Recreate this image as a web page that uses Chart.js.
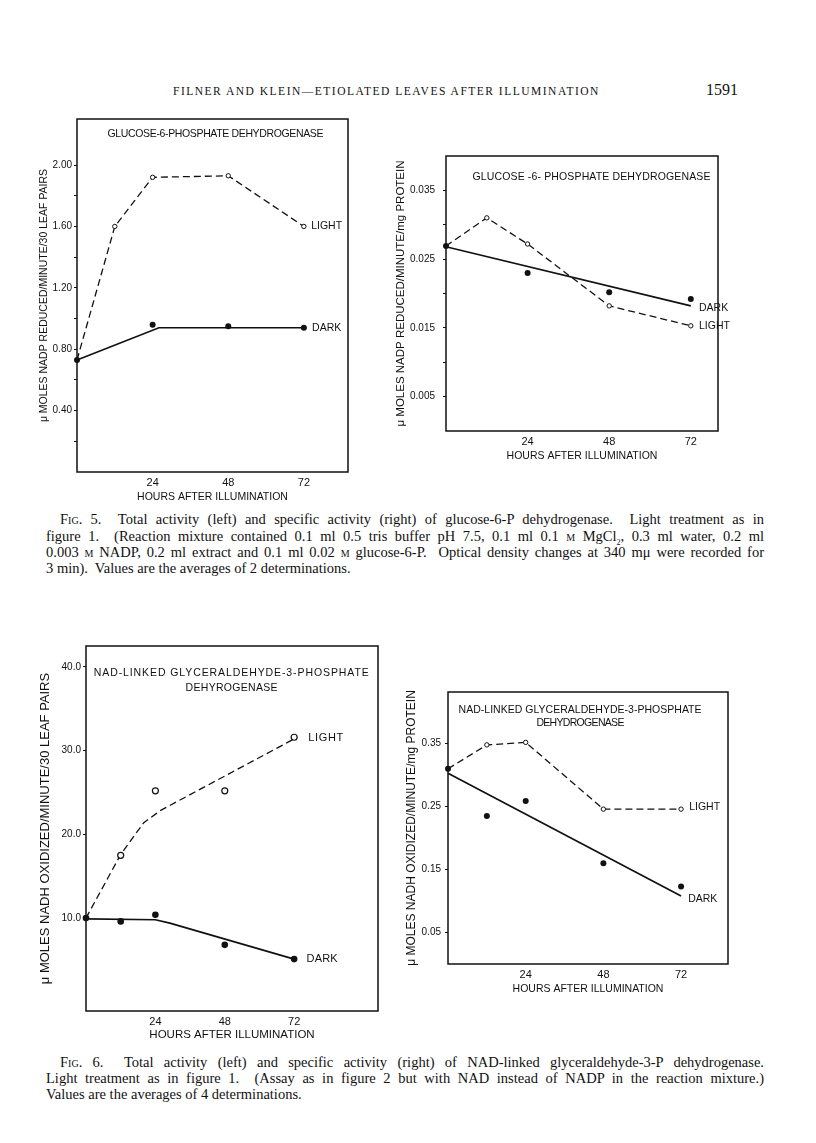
<!DOCTYPE html>
<html>
<head>
<meta charset="utf-8">
<script src="https://cdn.jsdelivr.net/npm/chart.js@4.4.1/dist/chart.umd.min.js"></script>
<style>
  body { margin: 0; background: #fff; width: 816px; height: 1143px; position: relative; overflow: hidden; color: #111; font-family: "Liberation Serif", "Times New Roman", serif; }
  canvas { position: absolute; }
  .hdr { position: absolute; font-size: 11.5px; letter-spacing: 1.5px; white-space: nowrap; }
  .cap { position: absolute; left: 46px; width: 718px; font-size: 14.5px; line-height: 16px; white-space: nowrap; text-align: justify; text-align-last: justify; }
  .cap.first { padding-left: 14px; width: 704px; }
  .cap.last { text-align-last: left; }
  .sc { font-variant: small-caps; }
</style>
</head>
<body>
<div class="hdr" style="left:173px; top:85px;">FILNER AND KLEIN—ETIOLATED LEAVES AFTER ILLUMINATION</div>
<div class="hdr" style="left:706px; top:81px; font-size:16px; letter-spacing:0;">1591</div>

<canvas id="g6pTotal"></canvas>
<canvas id="g6pSpec"></canvas>

<div class="cap first" style="top:511px;">F<span class="sc">ig</span>. 5.&nbsp; Total activity (left) and specific activity (right) of glucose-6-P dehydrogenase.&nbsp; Light treatment as in</div>
<div class="cap" style="top:527.5px;">figure 1.&nbsp; (Reaction mixture contained 0.1 ml 0.5 tris buffer pH 7.5, 0.1 ml 0.1 <span class="sc">m</span> MgCl<sub style="font-size:8px">2</sub>, 0.3 ml water, 0.2 ml</div>
<div class="cap" style="top:544px;">0.003 <span class="sc">m</span> NADP, 0.2 ml extract and 0.1 ml 0.02 <span class="sc">m</span> glucose-6-P.&nbsp; Optical density changes at 340 mμ were recorded for</div>
<div class="cap last" style="top:559.5px;">3 min).&nbsp; Values are the averages of 2 determinations.</div>

<canvas id="gapdhTotal"></canvas>
<canvas id="gapdhSpec"></canvas>

<div class="cap first" style="top:1054px;">F<span class="sc">ig</span>. 6.&nbsp; Total activity (left) and specific activity (right) of NAD-linked glyceraldehyde-3-P dehydrogenase.</div>
<div class="cap" style="top:1070px;">Light treatment as in figure 1.&nbsp; (Assay as in figure 2 but with NAD instead of NADP in the reaction mixture.)</div>
<div class="cap last" style="top:1085.5px;">Values are the averages of 4 determinations.</div>

<script>
// hours after illumination
const hours = [0, 12, 24, 48, 72];
const darkHours = [0, 24, 48, 72];
const lightHours = [12, 24, 48, 72];
const xTicks = [24, 48, 72];

// Fig. 5 left: total activity of glucose-6-P dehydrogenase
const g6pTotalLight = [0.73, 1.60, 1.92, 1.93, 1.60];
const g6pTotalDark = [0.73, 0.96, 0.95, 0.94];
const g6pTotalDarkFitX = [0, 26, 72];
const g6pTotalDarkFitY = [0.73, 0.94, 0.94];
const g6pTotalYMajor = [0.4, 0.8, 1.2, 1.6, 2.0];
const g6pTotalYLabels = ['0.40', '0.80', '1.20', '1.60', '2.00'];
const g6pTotalYMinor = [0.2, 0.6, 1.0, 1.4, 1.8];

// Fig. 5 right: specific activity of glucose-6-P dehydrogenase
const g6pSpecLight = [0.0269, 0.0310, 0.0272, 0.0182, 0.0153];
const g6pSpecDark = [0.0269, 0.0230, 0.0202, 0.0192];
const g6pSpecDarkFitX = [0, 72];
const g6pSpecDarkFitY = [0.0268, 0.0182];
const g6pSpecYMajor = [0.005, 0.015, 0.025, 0.035];
const g6pSpecYLabels = ['0.005', '0.015', '0.025', '0.035'];
const g6pSpecYMinor = [0.010, 0.020, 0.030];

// Fig. 6 left: total activity of NAD-linked glyceraldehyde-3-P dehydrogenase
const gapdhTotalLight = [17.5, 25.2, 25.2, 31.6];
const gapdhTotalLightFitX = [0, 12, 20, 26, 72];
const gapdhTotalLightFitY = [10.0, 17.6, 21.4, 22.9, 31.4];
const gapdhTotalDark = [10.0, 9.6, 10.4, 6.8, 5.1];
const gapdhTotalDarkFitX = [0, 24, 29, 72];
const gapdhTotalDarkFitY = [9.9, 9.8, 9.4, 5.1];
const gapdhTotalYMajor = [10, 20, 30, 40];
const gapdhTotalYLabels = ['10.0', '20.0', '30.0', '40.0'];
const gapdhTotalYMinor = [];

// Fig. 6 right: specific activity of NAD-linked glyceraldehyde-3-P dehydrogenase
const gapdhSpecLight = [0.310, 0.348, 0.352, 0.246, 0.246];
const gapdhSpecDark = [0.310, 0.235, 0.259, 0.160, 0.123];
const gapdhSpecDarkFitX = [0, 72];
const gapdhSpecDarkFitY = [0.303, 0.108];
const gapdhSpecYMajor = [0.05, 0.15, 0.25, 0.35];
const gapdhSpecYLabels = ['0.05', '0.15', '0.25', '0.35'];
const gapdhSpecYMinor = [];

const ink = '#111';
const sans = '"Liberation Sans", Arial, sans-serif';

function pts(xs, ys) {
    return xs.map((x, i) => ({ x: x, y: ys[i] }));
}

function decor(notes) {
    return {
        id: 'decor',
        beforeDatasetsDraw(chart) {
            const a = chart.chartArea, ctx = chart.ctx;
            ctx.save();
            ctx.strokeStyle = ink;
            ctx.lineWidth = 1.5;
            ctx.strokeRect(a.left, a.top, a.right - a.left, a.bottom - a.top);
            ctx.restore();
        },
        afterDraw(chart) {
            const ctx = chart.ctx, xs = chart.scales.x, ys = chart.scales.y;
            ctx.save();
            ctx.fillStyle = ink;
            ctx.textBaseline = 'middle';
            notes.forEach(n => {
                ctx.font = n.font;
                ctx.textAlign = n.align || 'left';
                ctx.letterSpacing = '0px';
                if (n.width) {
                    const m = ctx.measureText(n.text).width;
                    ctx.letterSpacing = ((n.width - m) / (n.text.length - 1)) + 'px';
                }
                ctx.fillText(n.text, xs.getPixelForValue(n.x), ys.getPixelForValue(n.y));
            });
            ctx.restore();
        }
    };
}

// top padding is kept larger than the y scale's own label padding so the box top lands on g.box[1]
const padTop = 24;

function panel(id, g) {
    const cv = document.getElementById(id);
    const w = g.box[2] - g.box[0] + g.yw + g.padRight;
    const h = g.box[3] - g.box[1] + padTop + g.xh;
    cv.width = w;
    cv.height = h;
    cv.style.left = (g.box[0] - g.yw) + 'px';
    cv.style.top = (g.box[1] - padTop) + 'px';

    const allY = g.yMajor.concat(g.yMinor).sort((a, b) => a - b);

    new Chart(cv.getContext('2d'), {
        type: 'line',
        data: { datasets: g.datasets },
        options: {
            responsive: false,
            animation: false,
            layout: { padding: { top: padTop, right: g.padRight, left: 0, bottom: 0 } },
            plugins: { legend: { display: false }, tooltip: { enabled: false } },
            scales: {
                x: {
                    type: 'linear',
                    min: g.xMin, max: g.xMax,
                    afterBuildTicks: s => { s.ticks = xTicks.map(v => ({ value: v })); },
                    afterFit: s => { s.height = g.xh; },
                    grid: { display: false, drawTicks: false },
                    border: { display: false },
                    ticks: { color: ink, font: { family: sans, size: 11 }, padding: g.xPad, callback: v => String(v) },
                    title: { display: true, text: 'HOURS AFTER ILLUMINATION', color: ink,
                             font: { family: sans, size: g.xTitleSize }, padding: { top: 0, bottom: 2 } }
                },
                y: {
                    type: 'linear',
                    min: g.yMin, max: g.yMax,
                    afterBuildTicks: s => { s.ticks = allY.map(v => ({ value: v })); },
                    afterFit: s => { s.width = g.yw; },
                    grid: { drawOnChartArea: false, drawTicks: true, tickLength: 3, color: ink, lineWidth: 1 },
                    border: { display: false },
                    ticks: {
                        color: ink, font: { family: sans, size: 10 }, padding: g.yPad, autoSkip: false,
                        callback: v => {
                            const i = g.yMajor.findIndex(m => Math.abs(m - v) < 1e-9);
                            return i >= 0 ? g.yLabels[i] : '';
                        }
                    },
                    title: { display: true, text: g.yTitle, color: ink,
                             font: { family: sans, size: g.yTitleSize }, padding: { top: 0, bottom: 0 } }
                }
            }
        },
        plugins: [decor(g.notes)]
    });
}

function lightLine(data, r, radii) {
    return { data: data, borderColor: ink, borderWidth: 1.3, borderDash: [7, 4], fill: false,
             pointRadius: radii || r, pointBackgroundColor: '#fff', pointBorderColor: ink,
             pointBorderWidth: 1, tension: 0, clip: false };
}
function fitLine(data) {
    return { data: data, borderColor: ink, borderWidth: 1.7, pointRadius: 0, fill: false, tension: 0, clip: false };
}
function dots(data, r) {
    return { data: data, showLine: false, pointRadius: r, pointBackgroundColor: ink,
             pointBorderColor: ink, pointBorderWidth: 0, clip: false };
}
function openDots(data, r) {
    return { data: data, showLine: false, pointRadius: r, pointBackgroundColor: '#fff',
             pointBorderColor: ink, pointBorderWidth: 1.2, clip: false };
}

const noteFont = '10.5px ' + sans;

panel('g6pTotal', {
    box: [77, 119, 348, 472], yw: 39, xh: 33, padRight: 45, xPad: 4,
    xMin: 0, xMax: 86, yMin: 0, yMax: 2.3,
    yMajor: g6pTotalYMajor, yLabels: g6pTotalYLabels, yMinor: g6pTotalYMinor, yPad: 2,
    yTitle: 'μ MOLES NADP REDUCED/MINUTE/30 LEAF PAIRS', yTitleSize: 10.5, xTitleSize: 10.5,
    datasets: [
        dots(pts(darkHours, g6pTotalDark), 3),
        fitLine(pts(g6pTotalDarkFitX, g6pTotalDarkFitY)),
        lightLine(pts(hours, g6pTotalLight), 2.2, [0, 2.2, 2.2, 2.2, 2.2])
    ],
    notes: [
        { text: 'GLUCOSE-6-PHOSPHATE DEHYDROGENASE', x: 43.9, y: 2.20, align: 'center', font: noteFont, width: 216 },
        { text: 'LIGHT', x: 74.3, y: 1.60, font: noteFont },
        { text: 'DARK', x: 74.6, y: 0.94, font: noteFont }
    ]
});

panel('g6pSpec', {
    box: [446, 156, 718, 431], yw: 52, xh: 33, padRight: 45, xPad: 4,
    xMin: 0, xMax: 80, yMin: 0, yMax: 0.040,
    yMajor: g6pSpecYMajor, yLabels: g6pSpecYLabels, yMinor: g6pSpecYMinor, yPad: 8,
    yTitle: 'μ MOLES NADP REDUCED/MINUTE/mg PROTEIN', yTitleSize: 11.5, xTitleSize: 10.5,
    datasets: [
        dots(pts(darkHours, g6pSpecDark), 3),
        fitLine(pts(g6pSpecDarkFitX, g6pSpecDarkFitY)),
        lightLine(pts(hours, g6pSpecLight), 2.2, [0, 2.2, 2.2, 2.2, 2.2])
    ],
    notes: [
        { text: 'GLUCOSE -6- PHOSPHATE DEHYDROGENASE', x: 42.8, y: 0.0370, align: 'center', font: noteFont, width: 238 },
        { text: 'DARK', x: 74.4, y: 0.0179, font: noteFont },
        { text: 'LIGHT', x: 74.4, y: 0.0153, font: noteFont }
    ]
});

panel('gapdhTotal', {
    box: [86, 646, 378, 1011], yw: 48, xh: 33, padRight: 20, xPad: 4,
    xMin: 0, xMax: 101, yMin: -1.1, yMax: 42.5,
    yMajor: gapdhTotalYMajor, yLabels: gapdhTotalYLabels, yMinor: gapdhTotalYMinor, yPad: 2,
    yTitle: 'μ MOLES NADH OXIDIZED/MINUTE/30 LEAF PAIRS', yTitleSize: 13, xTitleSize: 11.5,
    datasets: [
        dots(pts(hours, gapdhTotalDark), 3.3),
        openDots(pts(lightHours, gapdhTotalLight), 3),
        fitLine(pts(gapdhTotalDarkFitX, gapdhTotalDarkFitY)),
        lightLine(pts(gapdhTotalLightFitX, gapdhTotalLightFitY), 0)
    ],
    notes: [
        { text: 'NAD-LINKED GLYCERALDEHYDE-3-PHOSPHATE', x: 50.4, y: 39.3, align: 'center', font: '10.5px ' + sans, width: 275 },
        { text: 'DEHYROGENASE', x: 50.4, y: 37.5, align: 'center', font: '10.5px ' + sans, width: 92 },
        { text: 'LIGHT', x: 76.9, y: 31.55, font: '11px ' + sans, width: 35 },
        { text: 'DARK', x: 76.3, y: 5.08, font: '11px ' + sans, width: 31 }
    ]
});

panel('gapdhSpec', {
    box: [448, 692, 728, 964], yw: 44, xh: 33, padRight: 20, xPad: 4,
    xMin: 0, xMax: 86.5, yMin: 0, yMax: 0.432,
    yMajor: gapdhSpecYMajor, yLabels: gapdhSpecYLabels, yMinor: gapdhSpecYMinor, yPad: 4,
    yTitle: 'μ MOLES NADH OXIDIZED/MINUTE/mg PROTEIN', yTitleSize: 12, xTitleSize: 10.5,
    datasets: [
        dots(pts(hours, gapdhSpecDark), 3),
        fitLine(pts(gapdhSpecDarkFitX, gapdhSpecDarkFitY)),
        lightLine(pts(hours, gapdhSpecLight), 2.2, [0, 2.2, 2.2, 2.2, 2.2])
    ],
    notes: [
        { text: 'NAD-LINKED GLYCERALDEHYDE-3-PHOSPHATE', x: 40.8, y: 0.4034, align: 'center', font: noteFont, width: 243 },
        { text: 'DEHYDROGENASE', x: 40.8, y: 0.3833, align: 'center', font: noteFont, width: 88 },
        { text: 'LIGHT', x: 74.5, y: 0.2484, font: noteFont },
        { text: 'DARK', x: 74.2, y: 0.1029, font: noteFont }
    ]
});
</script>
</body>
</html>
